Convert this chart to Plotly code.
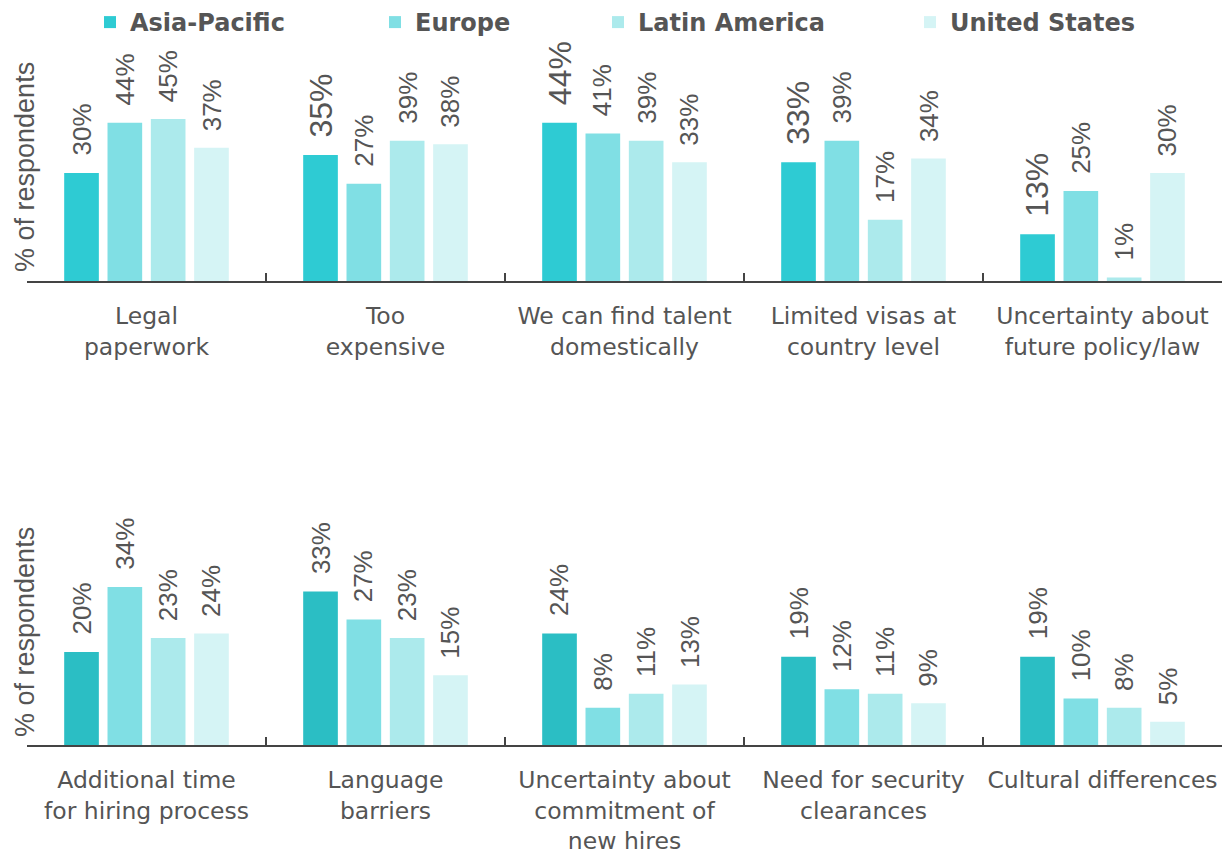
import plotly.graph_objects as go
from plotly.subplots import make_subplots

series = ["Asia-Pacific", "Europe", "Latin America", "United States"]
colors = ["#2ecbd3", "#80dfe4", "#aceaec", "#d5f4f5"]
ap_color_bottom = "#2bbec4"

cats_top = ["Legal<br>paperwork", "Too<br>expensive", "We can find talent<br>domestically",
            "Limited visas at<br>country level", "Uncertainty about<br>future policy/law"]
cats_bot = ["Additional time<br>for hiring process", "Language<br>barriers",
            "Uncertainty about<br>commitment of<br>new hires", "Need for security<br>clearances",
            "Cultural differences"]

top_vals = {
    "Asia-Pacific": [30, 35, 44, 33, 13],
    "Europe": [44, 27, 41, 39, 25],
    "Latin America": [45, 39, 39, 17, 1],
    "United States": [37, 38, 33, 34, 30],
}
bot_vals = {
    "Asia-Pacific": [20, 33, 24, 19, 19],
    "Europe": [34, 27, 8, 12, 10],
    "Latin America": [23, 23, 11, 11, 8],
    "United States": [24, 15, 13, 9, 5],
}
# labels shown larger in the reference
big_top = {"Asia-Pacific": [False, True, True, True, True]}

W, H = 1222, 856
FONT = "Liberation Sans"
CFONT = "DejaVu Sans"
LFONT = "DejaVu Sans"
TXT = "#555555"

fig = make_subplots(rows=2, cols=1)

bargap = 0.275
bargroupgap = 0.2
x0_px = 27
group_px = (W - x0_px) / 5
slot = group_px * (1 - bargap) / 4

for i, s in enumerate(series):
    fig.add_trace(go.Bar(x=cats_top, y=top_vals[s], name=s, marker_color=colors[i],
                         marker_line_width=0, legend="legend" if i == 0 else f"legend{i+1}",
                         hoverinfo="x+y"), row=1, col=1)
    fig.add_trace(go.Bar(x=cats_bot, y=bot_vals[s], name=s,
                         marker_color=ap_color_bottom if i == 0 else colors[i],
                         marker_line_width=0, showlegend=False, hoverinfo="x+y"), row=2, col=1)

annotations = []
for i, s in enumerate(series):
    xs = (i - 1.5) * slot
    for j, c in enumerate(cats_top):
        v = top_vals[s][j]
        big = big_top.get(s, [False] * 5)[j]
        annotations.append(dict(x=c, y=v, xref="x", yref="y", text=f"{v}%", textangle=-90,
                                showarrow=False, xanchor="center", yanchor="bottom",
                                xshift=xs, yshift=15,
                                font=dict(family=FONT, size=32 if big else 26, color=TXT)))
    for j, c in enumerate(cats_bot):
        v = bot_vals[s][j]
        annotations.append(dict(x=c, y=v, xref="x2", yref="y2", text=f"{v}%", textangle=-90,
                                showarrow=False, xanchor="center", yanchor="bottom",
                                xshift=xs, yshift=15,
                                font=dict(family=FONT, size=26, color=TXT)))

# y-axis titles
for yc in [1 - 167 / H, 1 - 632 / H]:
    annotations.append(dict(x=25 / W, y=yc, xref="paper", yref="paper", text="% of respondents",
                            textangle=-90, showarrow=False, xanchor="center", yanchor="middle",
                            font=dict(family=FONT, size=27, color=TXT)))

fig.update_layout(
    width=W, height=H,
    margin=dict(l=0, r=0, t=0, b=0),
    paper_bgcolor="white", plot_bgcolor="white",
    barmode="group", bargap=bargap, bargroupgap=bargroupgap,
    font=dict(family=FONT, color=TXT),
    annotations=annotations,
)

axis_common = dict(showline=True, linecolor="#444444", linewidth=2, ticks="inside",
                   ticklen=8, tickwidth=2, tickcolor="#444444", tickson="boundaries",
                   showgrid=False, zeroline=False, ticklabelstandoff=13, automargin=False,
                   tickangle=0,
                   tickfont=dict(family=CFONT, size=23.5, color=TXT))
fig.update_xaxes(**axis_common, domain=[x0_px / W, 1])
fig.update_yaxes(visible=False, showgrid=False, automargin=False)
fig.update_yaxes(range=[0, 61.4], domain=[1 - 281 / H, 1 - 60 / H], row=1, col=1)
fig.update_yaxes(range=[0, 48.4], domain=[1 - 745 / H, 1 - 520 / H], row=2, col=1)

leg_text_x = [130, 415, 638, 950]
for i in range(4):
    key = "legend" if i == 0 else f"legend{i+1}"
    fig.update_layout({key: dict(x=(leg_text_x[i] - 40) / W, y=1,
                                 xanchor="left", yanchor="top",
                                 orientation="h", bgcolor="rgba(0,0,0,0)",
                                 font=dict(family=LFONT, size=24, color=TXT, weight="bold"))})

fig.write_html("out.html", config={"displayModeBar": False},
               post_script="document.body.style.margin='0px';")
